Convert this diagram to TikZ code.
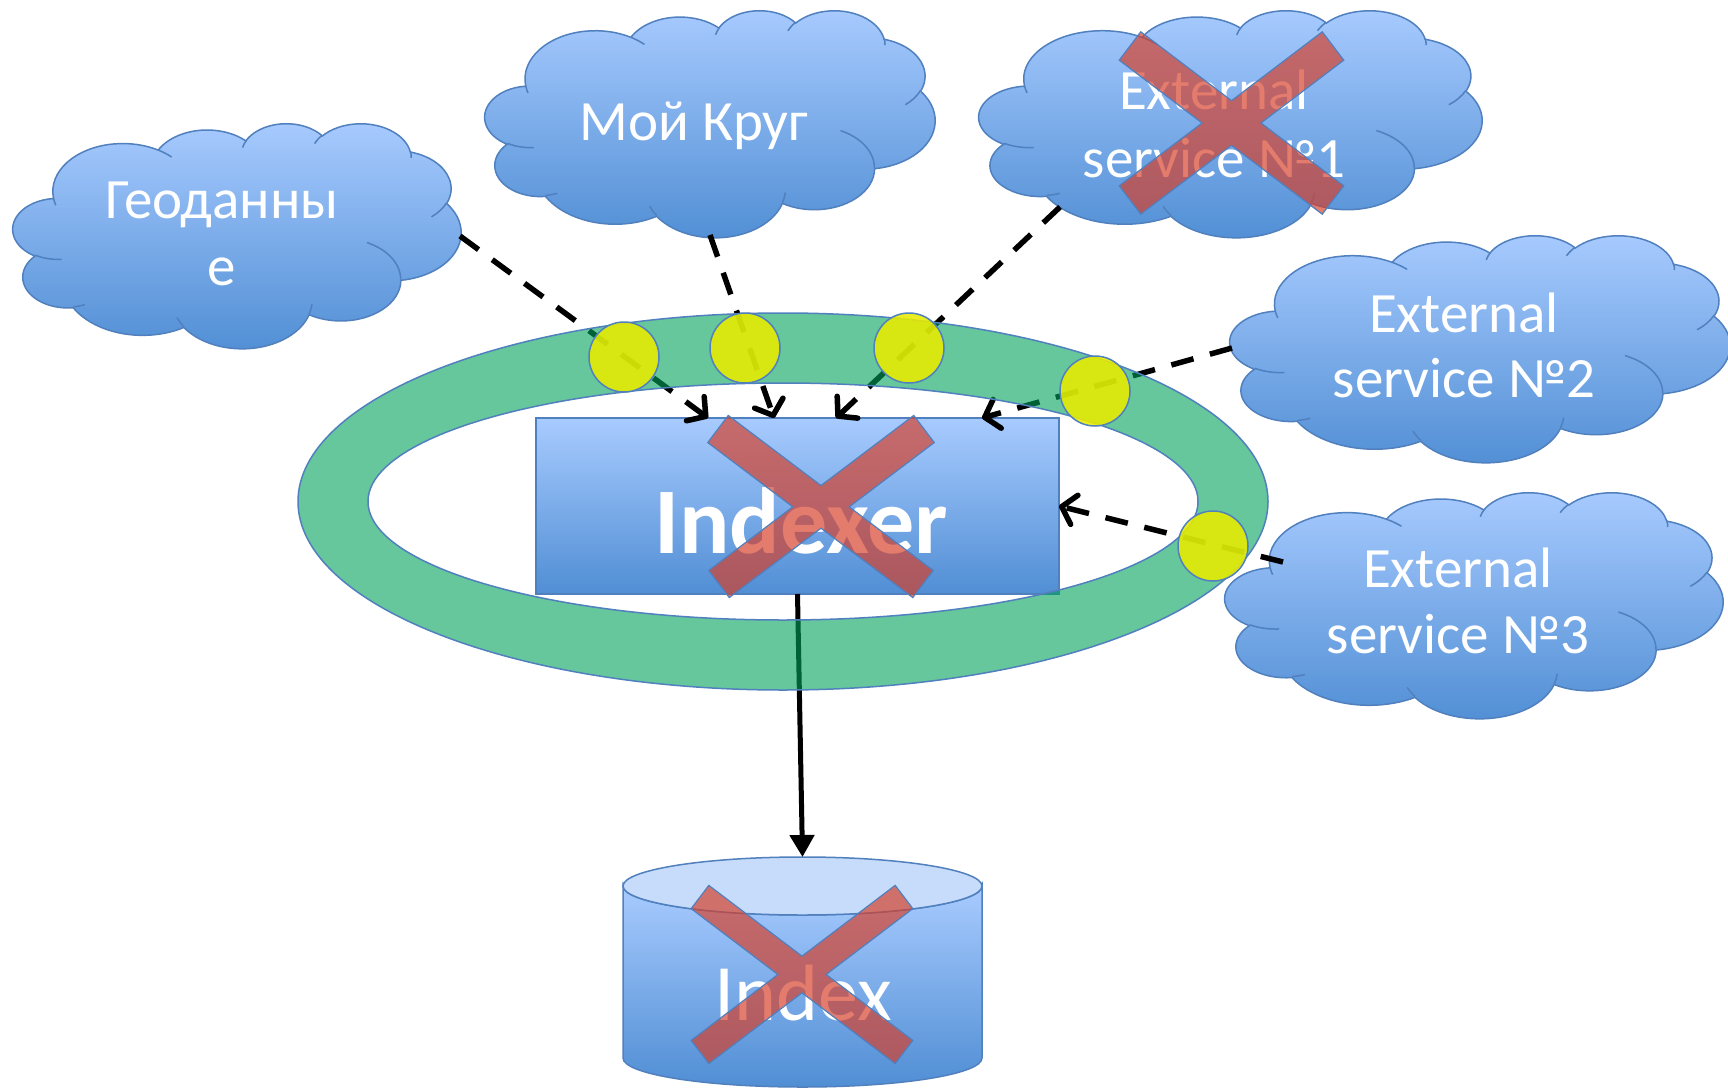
\documentclass[tikz,border=0pt]{standalone}
\usepackage{fontspec}
\setmainfont{Carlito}
\usetikzlibrary{calc,arrows.meta}

\definecolor{bluetop}{RGB}{168,203,255}
\definecolor{bluebot}{RGB}{80,142,212}
\definecolor{blueline}{RGB}{80,128,190}
\definecolor{cyltopc}{RGB}{198,220,250}
\definecolor{ringgreen}{RGB}{0,160,90}
\definecolor{yel}{RGB}{232,236,0}
\definecolor{xred}{RGB}{214,62,40}

% PowerPoint "cloud" outline, path units = 1/100 of 43200
\gdef\pptcloudpath{}
\foreach \wr/\hr/\st/\sw in {
 67.53/91.90/-190.48748/123.78053,
 53.33/72.67/-144.10238/89.94523,
 43.65/59.45/-145.80792/99.72302,
 48.57/65.95/-130.98607/117.24173,
 53.33/72.73/-78.70888/109.02692,
 67.75/92.20/-46.26725/130.269,
 57.85/78.67/0.62502/114.03333,
 67.52/92.15/22.4516/115.17255,
 77.20/105.43/66.24263/75.71102,
 43.60/59.18/-274.94208/146.73557,
 43.45/59.45/-246.8285/152.51885}{%
  \pgfmathsetmacro\ta{atan2(\wr*sin(\st),\hr*cos(\st))}%
  \pgfmathsetmacro\tb{atan2(\wr*sin(\st+\sw),\hr*cos(\st+\sw))}%
  \pgfmathsetmacro\tb{\tb+360*round((\ta+\sw-\tb)/360)}%
  \xdef\pptcloudpath{\pptcloudpath arc[start angle=\ta,end angle=\tb,x radius=\wr,y radius=\hr]}%
}
\gdef\pptcloudinner{}
\foreach \mx/\my/\wr/\hr/\st/\sw in {
 46.93/261.77/43.45/59.45/86.742/26.4295,
 69.28/348.99/43.60/59.18/73.61047/11.44747,
 164.78/390.90/67.52/92.15/137.62415/14.0811,
 288.27/347.51/67.52/92.15/6.45327/15.99835,
 341.29/229.54/57.85/78.67/-70.29235/70.91737,
 417.98/153.54/53.33/72.73/30.31803/27.7515,
 383.24/54.26/48.57/65.95/-13.74433/14.8589,
 290.78/39.52/48.57/65.95/-149.18145/18.19537,
 221.41/47.20/43.65/59.45/-163.49427/17.68635,
 140.00/51.92/67.53/91.90/-66.70695/12.31935,
 41.27/157.89/67.53/91.90/157.65435/11.85817}{%
  \pgfmathsetmacro\ta{atan2(\wr*sin(\st),\hr*cos(\st))}%
  \pgfmathsetmacro\tb{atan2(\wr*sin(\st+\sw),\hr*cos(\st+\sw))}%
  \pgfmathsetmacro\tb{\tb+360*round((\ta+\sw-\tb)/360)}%
  \xdef\pptcloudinner{\pptcloudinner (\mx,\my) arc[start angle=\ta,end angle=\tb,x radius=\wr,y radius=\hr]}%
}

\tikzset{
  cloudfill/.style={top color=bluetop, bottom color=bluebot, draw=blueline, line width=1.5pt},
  cloudinner/.style={draw=blueline, line width=1.5pt},
  wtext/.style={text=white, font=\fontsize{57}{66}\selectfont, anchor=base, inner sep=0pt},
  idxbox/.style={rectangle, minimum width=523pt, minimum height=176pt, inner sep=0pt, outer sep=0pt,
    top color=bluetop, bottom color=bluebot, draw=blueline, line width=1.5pt},
  cylbody/.style={top color=bluetop, bottom color=bluebot, draw=blueline, line width=1.5pt},
  cyltop/.style={fill=cyltopc, draw=blueline, line width=1.5pt},
  dasharrow/.style={line width=5.5pt, dash pattern=on 23pt off 17pt,
    -{Straight Barb[length=13pt,width=30pt,round]}},
  solidarrow/.style={line width=5pt, -{Triangle[length=22pt,width=24pt]}},
  ringfill/.style={fill=ringgreen, fill opacity=0.6, even odd rule},
  ringline/.style={draw=blueline, line width=1.5pt},
  yelc/.style={circle, minimum size=70pt, inner sep=0pt, fill=yel, fill opacity=0.88,
    draw=blueline, line width=1.5pt},
  xfill/.style={fill=xred, fill opacity=0.68, draw=blueline, line width=1.2pt, line join=miter},
}

\newcommand\pptcloud[5]{% name, x0, y0, W, H
  \pgfmathsetmacro\clsx{#4/432}%
  \pgfmathsetmacro\clsy{#5/432}%
  \begin{scope}[shift={(#2,#3)}, x=\clsx pt, y=-\clsy pt]
    \edef\cldtmp{\noexpand\path[cloudfill] (39.00,143.70) \pptcloudpath -- cycle;}\cldtmp
    \edef\cldtmp{\noexpand\path[cloudinner] \pptcloudinner;}\cldtmp
    \coordinate (#1) at (216,216);
  \end{scope}
}

\newcommand\xcross[6]{% prefix, P1 (TL), P2 (BR), P3 (TR), P4 (BL), half width
  \coordinate (#1p1) at #2;
  \coordinate (#1p2) at #3;
  \coordinate (#1p3) at #4;
  \coordinate (#1p4) at #5;
  \coordinate (#1a1) at ($(#1p1)!#6!90:(#1p2)$);
  \coordinate (#1a2) at ($(#1p1)!#6!-90:(#1p2)$);
  \coordinate (#1b1) at ($(#1p2)!#6!-90:(#1p1)$);
  \coordinate (#1b2) at ($(#1p2)!#6!90:(#1p1)$);
  \coordinate (#1c1) at ($(#1p3)!#6!90:(#1p4)$);
  \coordinate (#1c2) at ($(#1p3)!#6!-90:(#1p4)$);
  \coordinate (#1d1) at ($(#1p4)!#6!-90:(#1p3)$);
  \coordinate (#1d2) at ($(#1p4)!#6!90:(#1p3)$);
  \path[xfill] (#1a2) -- (#1a1)
    -- (intersection of #1a1--#1b1 and #1c2--#1d2) -- (#1c2) -- (#1c1)
    -- (intersection of #1c1--#1d1 and #1a1--#1b1) -- (#1b1) -- (#1b2)
    -- (intersection of #1a2--#1b2 and #1c1--#1d1) -- (#1d1) -- (#1d2)
    -- (intersection of #1c2--#1d2 and #1a2--#1b2) -- cycle;
}

\begin{document}
\begin{tikzpicture}[x=1pt,y=-1pt]
\useasboundingbox (0,0) rectangle (1728,1089);
\fill[white] (0,0) rectangle (1728,1089);

% clouds
\pptcloud{c1}{13}{123}{448}{225}
\pptcloud{c2}{485}{10}{450}{227}
\pptcloud{c3}{979}{10}{503}{227}
\pptcloud{c4}{1230}{235}{500}{227}
\pptcloud{c5}{1225}{492}{498}{226}

% indexer
\node[idxbox] (idx) at (797.5,506) {};

% index cylinder
\path[cylbody] (623,886) -- (623,1058) arc[start angle=180,end angle=0,x radius=179.5,y radius=29]
  -- (982,886) arc[start angle=0,end angle=180,x radius=179.5,y radius=29] -- cycle;
\path[cyltop] (802.5,886) ellipse[x radius=179.5,y radius=29];
\coordinate (db) at (802.5,857);

% texts
\node[wtext] (t1a) at (222,218) {Геоданны};
\node[wtext] (t1b) at (222,285) {е};
\node[wtext] (t2) at (694,140) {Мой Круг};
\node[wtext] (t3a) at (1214,110) {External};
\node[wtext] (t3b) at (1214,177) {service №1};
\node[wtext] (t4a) at (1464,332) {External};
\node[wtext] (t4b) at (1464,397) {service №2};
\node[wtext] (t5a) at (1458,587) {External};
\node[wtext] (t5b) at (1458,653) {service №3};
\node[anchor=base, inner sep=0pt, text=white, font=\fontsize{94}{110}\selectfont\bfseries] (tidx) at (801,553.6) {Indexer};
\node[anchor=base, inner sep=0pt, text=white, font=\fontsize{80}{96}\selectfont] (tdb) at (803,1020) {Index};

% connectors
\coordinate (s1) at (460,236);
\coordinate (s2) at (710,235);
\coordinate (s3) at (1060,207);
\coordinate (s4) at (1232,348);
\coordinate (s5) at (1283,562);
\coordinate (e1) at ($(idx.north west)!0.3289!(idx.north east)$);
\coordinate (e2) at ($(idx.north west)!0.4551!(idx.north east)$);
\coordinate (e3) at ($(idx.north west)!0.5736!(idx.north east)$);
\coordinate (e4) at ($(idx.north west)!0.8528!(idx.north east)$);
\coordinate (e5) at (idx.east);
\draw[dasharrow] (s1) -- (e1);
\draw[dasharrow] (s2) -- (e2);
\draw[dasharrow] (s3) -- (e3);
\draw[dasharrow] (s4) -- (e4);
\draw[dasharrow] (s5) -- (e5);
\draw[solidarrow] (idx.south) -- (db);

% ring
\coordinate (ringc) at (783,501.5);
\path[ringfill] (ringc) ellipse[x radius=485,y radius=188.5] (ringc) ellipse[x radius=415,y radius=118.5];
\path[ringline] (ringc) ellipse[x radius=485,y radius=188.5];
\path[ringline] (ringc) ellipse[x radius=415,y radius=118.5];

% yellow points
\node[yelc] (y1) at (624,357) {};
\node[yelc] (y2) at (745,348) {};
\node[yelc] (y3) at (909,348) {};
\node[yelc] (y4) at (1095,391) {};
\node[yelc] (y5) at (1213,546) {};

% crosses
\xcross{xa}{(718,429)}{(923,584)}{(924,429)}{(719,584)}{17pt}
\xcross{xb}{(1130,46)}{(1333,200)}{(1333,46)}{(1130,200)}{17.8pt}
\xcross{xc}{(700,897)}{(904,1052)}{(904,897)}{(700,1052)}{14.6pt}
\end{tikzpicture}
\end{document}
